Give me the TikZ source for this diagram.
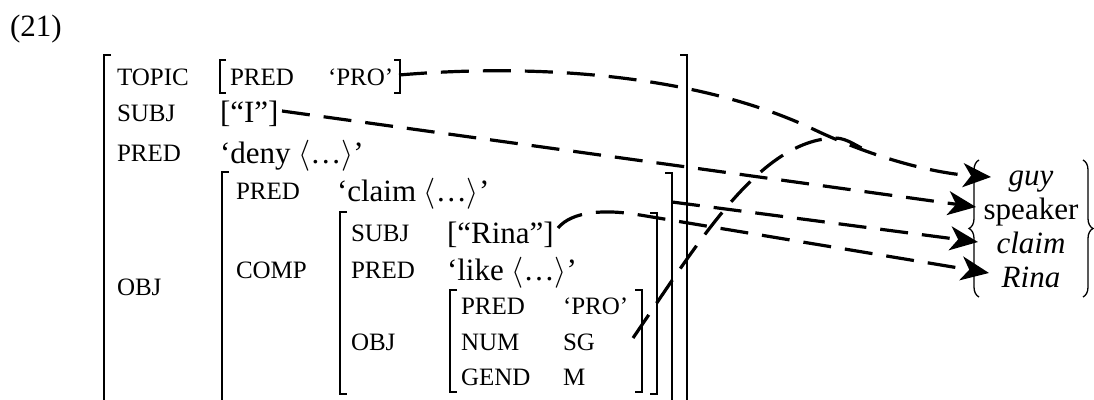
\RequirePackage{fix-cm}
\documentclass[tikz,border=0pt]{standalone}
\usepackage{fontspec}
\setmainfont{Liberation Serif}
\usetikzlibrary{arrows.meta,decorations.pathreplacing}
\begin{document}
\begin{tikzpicture}[x=1pt,y=-1pt,
  every node/.style={inner sep=0pt, outer sep=0pt, anchor=base west},
  txt/.style={font=\fontsize{31}{37}\selectfont},
  lbl/.style={font=\fontsize{25}{30}\selectfont},
  brk/.style={line width=1.6pt},
  link/.style={line width=3.2pt, dash pattern=on 28pt off 14pt},
  arr/.style={link, -{Stealth[length=28pt,width=24pt,inset=8pt]}},
  brc/.style={line width=1.3pt, decorate, decoration={brace, amplitude=10pt}}
]
\useasboundingbox (0,0) rectangle (1094,399);
\clip (0,0) rectangle (1094,399);

% number
\node[txt] (n21) at (10,36) {(21)};

% brackets
\draw[brk] (111,55) -- (104,55) -- (104,410);
\draw[brk] (680,55) -- (687,55) -- (687,410);
\draw[brk] (229,172) -- (222,172) -- (222,410);
\draw[brk] (665,173) -- (672,173) -- (672,410);
\draw[brk] (347,212) -- (340,212) -- (340,394) -- (347,394);
\draw[brk] (650,213) -- (657,213) -- (657,394) -- (650,394);
\draw[brk] (457,290) -- (450,290) -- (450,392) -- (457,392);
\draw[brk] (635,290) -- (642,290) -- (642,392) -- (635,392);
\draw[brk] (226,60) -- (220,60) -- (220,93) -- (226,93);
\draw[brk] (394,60) -- (400,60) -- (400,93) -- (394,93);

% outer level
\node[lbl] (topic) at (117,85) {TOPIC};
\node[lbl] (tpred) at (230,85) {PRED};
\node[lbl] (tpro) at (328,85) {‘PRO’};
\node[lbl] (subj) at (117,121) {SUBJ};
\node[txt] (ival) at (220,122) {[“I”]};
\node[lbl] (pred) at (117,161) {PRED};
\node[txt] (deny) at (220,163) {‘deny $\langle$…$\rangle$’};
\node[lbl] (obj) at (117,295) {OBJ};

% claim level
\node[lbl] (cpred) at (236,199) {PRED};
\node[txt] (claimv) at (337,201) {‘claim $\langle$…$\rangle$’};
\node[lbl] (comp) at (236,278) {COMP};

% comp level
\node[lbl] (ssubj) at (351,241) {SUBJ};
\node[txt] (rinav) at (447,243) {[“Rina”]};
\node[lbl] (spred) at (351,278) {PRED};
\node[txt] (like) at (447,280) {‘like $\langle$…$\rangle$’};
\node[lbl] (sobj) at (351,350) {OBJ};

% innermost
\node[lbl] (ipred) at (461,314) {PRED};
\node[lbl] (ipro) at (563,314) {‘PRO’};
\node[lbl] (inum) at (461,350) {NUM};
\node[lbl] (isg) at (563,350) {SG};
\node[lbl] (igend) at (461,385) {GEND};
\node[lbl] (im) at (563,385) {M};

% set of referents
\node[txt,anchor=base] (guy) at (1031,185) {\itshape guy};
\node[txt,anchor=base] (speaker) at (1031,219) {speaker};
\node[txt,anchor=base] (claimset) at (1031,253) {\itshape claim};
\node[txt,anchor=base] (rinaset) at (1031,287) {\itshape Rina};
\draw[brc] (979,297) -- (979,160);
\draw[brc] (1083,160) -- (1083,297);

% connector end points
\coordinate (topicR) at (399,75);
\coordinate (bend1) at (815,130);
\coordinate (guyin) at (991,177);
\coordinate (pro3) at (633,338);
\coordinate (crest) at (835,138);
\coordinate (merge) at (871,152);
\coordinate (iR) at (282,111);
\coordinate (spkin) at (976,207);
\coordinate (claimR) at (672,202);
\coordinate (claimin) at (978,242);
\coordinate (rinaR) at (558,228);
\coordinate (rinaknee) at (640,215);
\coordinate (rinain) at (989,273);

% connectors
\draw[arr] (topicR) .. controls (540,63) and (700,75) .. (bend1) .. controls (870,156) and (930,173) .. (guyin);
\draw[link] (pro3) .. controls (700,240) and (760,140) .. (crest) .. controls (848,138) and (858,148) .. (merge);
\draw[arr] (iR) -- (spkin);
\draw[arr] (claimR) -- (claimin);
\draw[arr] (rinaR) .. controls (572,211) and (605,209) .. (rinaknee) -- (rinain);
\end{tikzpicture}
\end{document}
